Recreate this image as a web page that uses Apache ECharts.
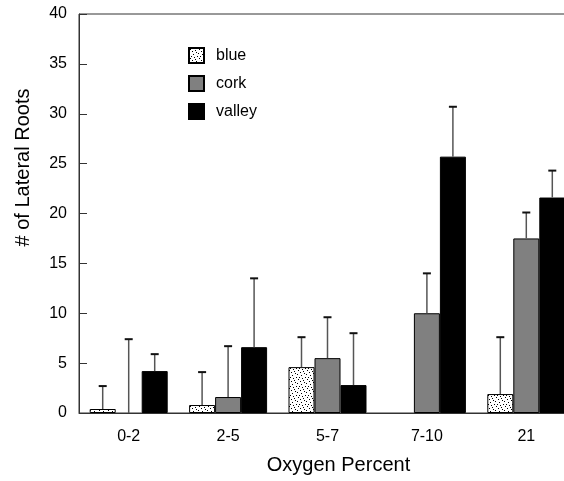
<!DOCTYPE html>
<html>
<head>
<meta charset="utf-8">
<script src="https://cdn.jsdelivr.net/npm/echarts@6/dist/echarts.min.js"></script>
<style>
  html, body { margin: 0; padding: 0; background: #fff; overflow: hidden; }
  #chart { width: 578px; height: 481px; }
</style>
</head>
<body>
<div id="chart"></div>
<script>
const categories = ["0-2", "2-5", "5-7", "7-10", "21"];
const seriesNames = ["blue", "cork", "valley"];
const blueValues = [0.4, 0.8, 4.6, 0, 1.9];
const corkValues = [0, 1.6, 5.5, 10.0, 17.5];
const valleyValues = [4.2, 6.6, 2.8, 25.7, 21.6];
// top of the upper error bar (absolute value)
const blueErrTop = [2.7, 4.1, 7.6, null, 7.6];
const corkErrTop = [7.4, 6.7, 9.6, 14.0, 20.1];
const valleyErrTop = [5.9, 13.5, 8.0, 30.7, 24.3];
const yTicks = { min: 0, max: 40, interval: 5 };

const BAR_W = 26;
const FONT = "Liberation Sans, Arial, sans-serif";

// stippled fill for the "blue" bars
function dotPattern() {
  const c = document.createElement("canvas");
  c.width = 9;
  c.height = 9;
  const ctx = c.getContext("2d");
  ctx.fillStyle = "#fff";
  ctx.fillRect(0, 0, 9, 9);
  ctx.fillStyle = "#000";
  [[1, 1], [5, 0], [3, 3], [7, 4], [0, 5], [4, 6], [8, 8], [2, 8], [6, 2]].forEach(([x, y]) => ctx.fillRect(x, y, 1, 1));
  return { image: c, repeat: "repeat" };
}

// zero-height bars draw nothing in the original
const barData = (values) => values.map((v) => (v === 0 ? null : v));

function errorSeries(values, tops, slot) {
  return {
    type: "custom",
    silent: true,
    z: 5,
    data: values.map((v, i) => [i, v, tops[i]]),
    renderItem: (params, api) => {
      if (api.value(2) == null || isNaN(api.value(2))) return null;
      const base = api.coord([api.value(0), api.value(1)]);
      const top = api.coord([api.value(0), api.value(2)]);
      const x = base[0] + slot * BAR_W;
      return {
        type: "group",
        children: [
          { type: "line", shape: { x1: x, y1: base[1], x2: x, y2: top[1] }, style: { stroke: "#555", lineWidth: 1.5 } },
          { type: "line", shape: { x1: x - 4, y1: top[1], x2: x + 4, y2: top[1] }, style: { stroke: "#111", lineWidth: 2 } }
        ]
      };
    }
  };
}

const chart = echarts.init(document.getElementById("chart"), null, { renderer: "canvas" });
chart.setOption({
  animation: false,
  textStyle: { fontFamily: FONT },
  grid: { left: 79, right: 2, top: 14, bottom: 68, show: true, borderColor: "#333", borderWidth: 1, backgroundColor: "transparent" },
  legend: {
    orient: "vertical",
    left: 188,
    top: 47,
    padding: 0,
    itemWidth: 15,
    itemHeight: 15,
    itemGap: 11,
    icon: "rect",
    data: seriesNames,
    textStyle: { fontSize: 16, color: "#000", fontFamily: FONT, padding: [0, 0, 0, 7] }
  },
  xAxis: {
    type: "category",
    data: categories,
    name: "Oxygen Percent",
    nameLocation: "middle",
    nameGap: 42,
    nameTextStyle: { fontSize: 20, color: "#000", fontFamily: FONT, padding: [0, 0, 0, 22] },
    axisLine: { lineStyle: { color: "#333", width: 1 } },
    axisTick: { alignWithLabel: true, length: 7, lineStyle: { color: "#333" } },
    axisLabel: { fontSize: 16, color: "#000", margin: 16, fontFamily: FONT }
  },
  yAxis: {
    type: "value",
    min: yTicks.min,
    max: yTicks.max,
    interval: yTicks.interval,
    name: "# of Lateral Roots",
    nameLocation: "middle",
    nameGap: 46,
    nameRotate: 90,
    nameTextStyle: { fontSize: 20, color: "#000", fontFamily: FONT, padding: [0, 0, 0, 92] },
    axisLine: { show: true, lineStyle: { color: "#333", width: 1 } },
    axisTick: { show: true, inside: true, length: 8, lineStyle: { color: "#333" } },
    axisLabel: { fontSize: 16, color: "#000", margin: 12, fontFamily: FONT },
    splitLine: { show: false }
  },
  series: [
    { name: "blue", type: "bar", data: barData(blueValues), barWidth: BAR_W, barGap: "0%", itemStyle: { color: dotPattern(), borderColor: "#000", borderWidth: 1 } },
    { name: "cork", type: "bar", data: barData(corkValues), barWidth: BAR_W, barGap: "0%", itemStyle: { color: "#808080", borderColor: "#000", borderWidth: 1 } },
    { name: "valley", type: "bar", data: barData(valleyValues), barWidth: BAR_W, barGap: "0%", itemStyle: { color: "#000", borderColor: "#000", borderWidth: 1 } },
    errorSeries(blueValues, blueErrTop, -1),
    errorSeries(corkValues, corkErrTop, 0),
    errorSeries(valleyValues, valleyErrTop, 1)
  ]
});
</script>
</body>
</html>
